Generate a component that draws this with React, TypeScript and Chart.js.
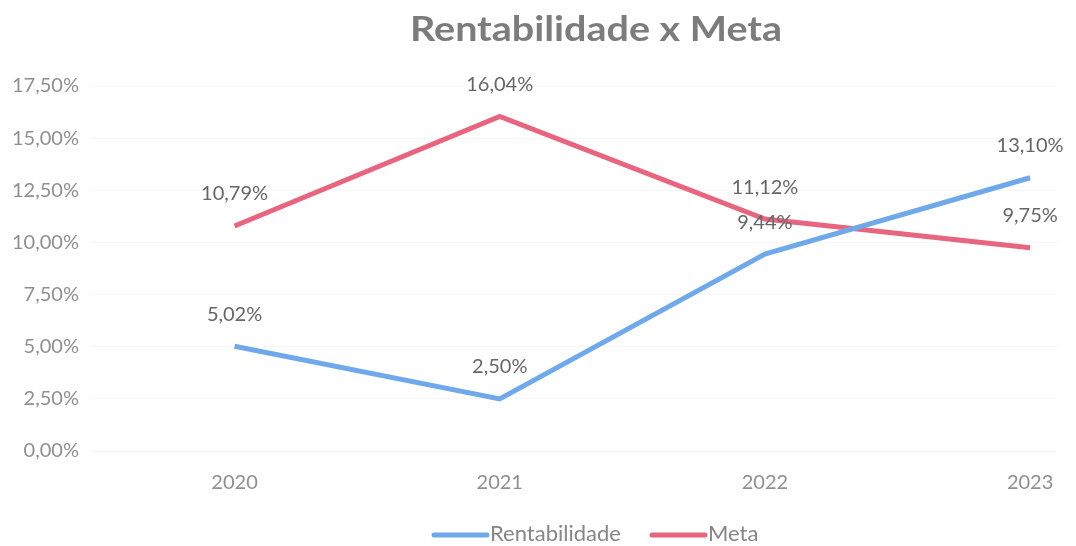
import React, { useEffect, useRef } from "react";
import { Chart, registerables } from "chart.js";

Chart.register(...registerables);

const categories = ["2020", "2021", "2022", "2023"];
const rentabilidade = [5.02, 2.5, 9.44, 13.1];
const meta = [10.79, 16.04, 11.12, 9.75];
const yTicks = [0, 2.5, 5, 7.5, 10, 12.5, 15, 17.5];
const titleText = "Rentabilidade x Meta";
const seriesNames = ["Rentabilidade", "Meta"];
const seriesColors = ["#6fa9ea", "#e8657f"];

const FONT = "Lato, 'Open Sans', sans-serif";
const fmt = (v: number) => v.toFixed(2).replace(".", ",") + "%";
const toPoints = (vals: number[]) =>
  categories.map((c, i) => ({ x: Number(c), y: vals[i] }));

const dataLabels = {
  id: "dataLabels",
  afterDatasetsDraw(chart: any) {
    const ctx = chart.ctx;
    ctx.save();
    ctx.font = `20px ${FONT}`;
    ctx.fillStyle = "#666666";
    ctx.textAlign = "center";
    ctx.textBaseline = "middle";
    chart.data.datasets.forEach((ds: any, i: number) => {
      const m = chart.getDatasetMeta(i);
      m.data.forEach((pt: any, j: number) => {
        ctx.fillText(fmt(ds.data[j].y), pt.x, pt.y - 32);
      });
    });
    ctx.restore();
  },
};

const titleLegend = {
  id: "titleLegend",
  afterDraw(chart: any) {
    const ctx = chart.ctx;
    ctx.save();
    // title
    ctx.font = `bold 35px ${FONT}`;
    ctx.fillStyle = "#7c7c7c";
    ctx.textBaseline = "alphabetic";
    ctx.textAlign = "center";
    const w = ctx.measureText(titleText).width;
    const sx = 372 / w;
    ctx.translate(596, 41);
    ctx.scale(sx, 1);
    ctx.fillText(titleText, 0, 0);
    ctx.setTransform(1, 0, 0, 1, 0, 0);
    // legend
    ctx.font = `22px ${FONT}`;
    ctx.textAlign = "left";
    ctx.textBaseline = "middle";
    const starts = [432, 650];
    seriesNames.forEach((name, i) => {
      const x0 = starts[i];
      ctx.strokeStyle = seriesColors[i];
      ctx.lineWidth = 5;
      ctx.lineCap = "round";
      ctx.beginPath();
      ctx.moveTo(x0 + 2, 535);
      ctx.lineTo(x0 + 55, 535);
      ctx.stroke();
      ctx.fillStyle = "#868686";
      ctx.fillText(name, x0 + 58, 534);
    });
    ctx.restore();
  },
};

export default function App() {
  const ref = useRef<HTMLCanvasElement>(null);
  useEffect(() => {
    document.body.style.margin = "0";
    const chart = new Chart(ref.current!, {
      type: "line",
      data: {
        datasets: [
          {
            label: seriesNames[0],
            data: toPoints(rentabilidade),
            borderColor: seriesColors[0],
            backgroundColor: seriesColors[0],
            borderWidth: 5,
            pointRadius: 0,
            tension: 0,
          },
          {
            label: seriesNames[1],
            data: toPoints(meta),
            borderColor: seriesColors[1],
            backgroundColor: seriesColors[1],
            borderWidth: 5,
            pointRadius: 0,
            tension: 0,
          },
        ],
      },
      options: {
        animation: false,
        responsive: false,
        maintainAspectRatio: false,
        layout: { padding: { left: 0, right: 17, top: 86, bottom: 31 } },
        plugins: {
          title: { display: false },
          legend: { display: false },
          tooltip: { enabled: false },
        },
        scales: {
          x: {
            type: "linear",
            min: 2019.4585,
            max: 2023.109,
            grid: { display: false, drawTicks: false },
            border: { display: false },
            afterBuildTicks: (s: any) => {
              s.ticks = categories.map((c) => ({ value: Number(c) }));
            },
            ticks: {
              color: "#8f8f8f",
              font: { family: FONT, size: 20 },
              padding: 20,
              callback: (v: any) => String(v),
            },
          },
          y: {
            min: 0,
            max: 17.5,
            afterBuildTicks: (s: any) => {
              s.ticks = yTicks.map((v) => ({ value: v }));
            },
            grid: { color: "#f7f7f7", drawTicks: false },
            border: { display: false },
            ticks: {
              color: "#8f8f8f",
              font: { family: FONT, size: 20 },
              padding: 12,
              callback: (v: any) => fmt(Number(v)),
            },
          },
        },
      },
      plugins: [dataLabels, titleLegend],
    });
    return () => chart.destroy();
  }, []);
  return (
    <div style={{ width: 1076, height: 546 }}>
      <canvas ref={ref} width={1076} height={546} style={{ display: "block" }} />
    </div>
  );
}
